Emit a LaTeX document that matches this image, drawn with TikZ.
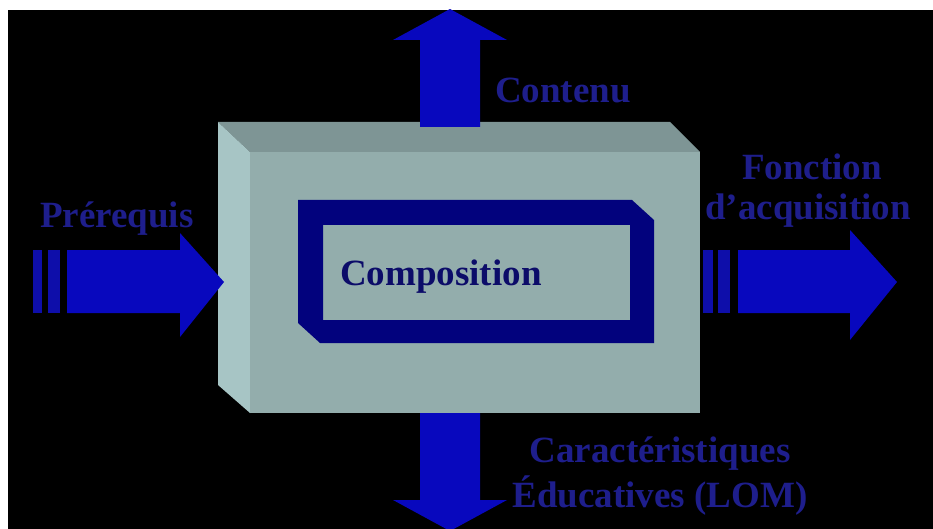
\documentclass[tikz,border=0pt]{standalone}
\usepackage{fontspec}
\setmainfont{Liberation Serif}
\definecolor{arrowblue}{RGB}{8,8,190}
\definecolor{stripeblue}{RGB}{14,14,170}
\definecolor{lblblue}{RGB}{30,30,140}
\definecolor{navyframe}{RGB}{2,2,125}
\definecolor{comptext}{RGB}{12,12,105}
\definecolor{boxfront}{RGB}{147,173,172}
\definecolor{boxtop}{RGB}{126,149,149}
\definecolor{boxleft}{RGB}{167,197,197}
\tikzset{
  lbl/.style={inner sep=0pt, text=lblblue, font=\fontsize{37}{40}\selectfont\bfseries},
  comp/.style={inner sep=0pt, text=comptext, font=\fontsize{37}{40}\selectfont\bfseries},
  arrowshape/.style={fill=arrowblue},
  stripeshape/.style={fill=stripeblue}
}
\begin{document}
\begin{tikzpicture}[x=1pt,y=-1pt]
\useasboundingbox (0,0) rectangle (933,529);
\fill[white] (0,0) rectangle (933,529);
\fill[black] (8,10) rectangle (933,529);
% 3D box
\fill[boxtop] (218,122) -- (670,122) -- (700,152) -- (250,152) -- cycle;
\fill[boxleft] (218,122) -- (250,152) -- (250,413) -- (218,385) -- cycle;
\fill[boxfront] (250,152) rectangle (700,413);
% inner beveled frame
\fill[navyframe, even odd rule] (298,200) -- (632,200) -- (654,220) -- (654,343) -- (320,343) -- (298,323) -- cycle
  (323,225) rectangle (630,320);
\node[comp, anchor=base west] (composition) at (340,285) {Composition};
\begin{scope}
\clip (8,10) rectangle (933,529);
% left arrow (Prérequis)
\fill[stripeshape] (33,250) rectangle (42,313);
\fill[stripeshape] (48,250) rectangle (60,313);
\fill[arrowshape] (67,250) -- (180,250) -- (180,233) -- (224,282) -- (180,337) -- (180,313) -- (67,313) -- cycle;
% right arrow (Fonction d'acquisition)
\fill[stripeshape] (703,250) rectangle (713,313);
\fill[stripeshape] (718,250) rectangle (730,313);
\fill[arrowshape] (738,250) -- (850,250) -- (850,230) -- (897,282) -- (850,340) -- (850,313) -- (738,313) -- cycle;
% up arrow (Contenu)
\fill[arrowshape] (420,127) -- (420,40) -- (393,40) -- (450,9) -- (507,40) -- (480,40) -- (480,127) -- cycle;
% down arrow
\fill[arrowshape] (420,413) -- (420,500) -- (393,500) -- (450,531) -- (507,500) -- (480,500) -- (480,413) -- cycle;
\end{scope}
% labels
\node[lbl, anchor=base west] (prereq) at (40,227) {Prérequis};
\node[lbl, anchor=base west] (contenu) at (495,103) {Contenu};
\node[lbl, anchor=base] (fonction) at (812,180) {Fonction};
\node[lbl, anchor=base] (acquisition) at (808,220) {d'acquisition};
\node[lbl, anchor=base] (caract) at (660,462) {Caractéristiques};
\node[lbl, anchor=base] (educ) at (660,507) {Éducatives (LOM)};
\end{tikzpicture}
\end{document}
